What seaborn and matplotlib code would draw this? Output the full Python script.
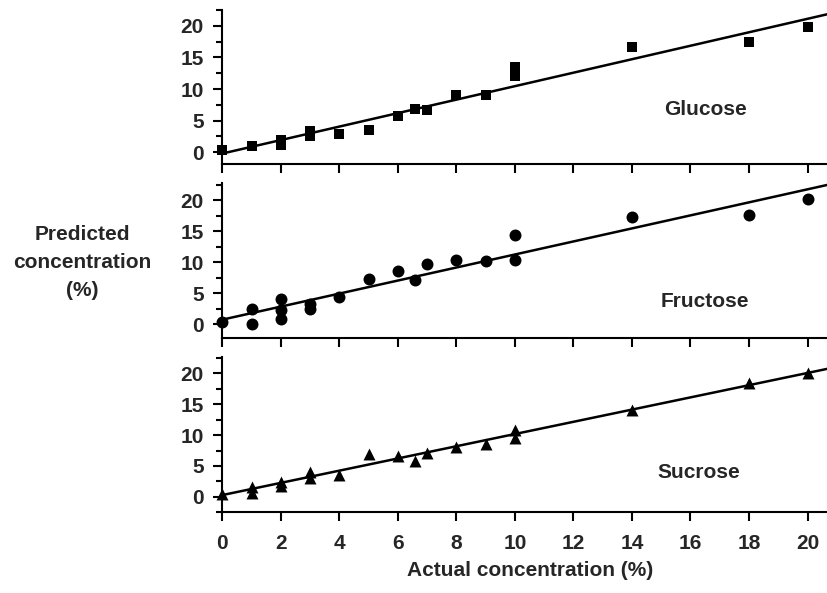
import seaborn as sns
import pandas as pd
from matplotlib import pyplot as plt
from matplotlib import ticker as ticktools

# values
glucose_x = [0, 1, 2, 2, 3, 3, 4, 5, 6, 6.6, 7, 8, 9, 10, 10, 14, 18, 20]
glucose_y = [0.3, 1.0, 2.0, 1.1, 3.3, 2.6, 2.9, 3.6, 5.7, 6.8, 6.7, 9.0, 9.1,
             13.5, 12.1, 16.6, 17.4, 19.8]

fructose_x = [0, 1, 1, 2, 2, 2, 3, 3, 4, 5, 6, 6.6, 7, 8, 9, 10, 10, 14, 18, 20]
fructose_y = [0.3, 2.4, 0.0, 4.0, 2.2, 0.8, 3.3, 2.4, 4.4, 7.3, 8.5, 7.1, 9.7,
              10.3, 10.1, 14.3, 10.4, 17.3, 17.6, 20.1]

sucrose_x = [0, 1, 1, 2, 2, 3, 3, 4, 5, 6, 6.6, 7, 8, 9, 10, 10, 14, 18, 20]
sucrose_y = [0.5, 1.6, 0.6, 2.4, 1.7, 4.1, 3.1, 3.6, 7.0, 6.6, 5.8, 7.1, 8.1,
             8.5, 10.9, 9.5, 14.0, 18.5, 20.0]

sugar_names = ["Glucose", "Fructose", "Sucrose"]

sns.set_theme(style="ticks")
plt.rcParams['font.family'] = ['Liberation Sans', 'DejaVu Sans']
plt.rcParams['font.weight'] = 'bold'

fig = plt.figure(figsize=(8.28, 5.93), dpi=100)

# panel rectangles (figure fractions), ylims, marker, label position
panels = [
    (glucose_x, glucose_y, [0.2685, 0.7229, 0.7315, 0.2602], (-1.9, 22.5), 's', 52, (16.5, 6.8)),
    (fructose_x, fructose_y, [0.2685, 0.4295, 0.7315, 0.2614], (-2.3, 22.7), 'o', 74, (16.5, 3.6)),
    (sucrose_x, sucrose_y, [0.2685, 0.1361, 0.7315, 0.2614], (-2.5, 22.6), '^', 74, (16.3, 3.9)),
]

for i, (xs, ys, rect, ylim, mk, ms, lab) in enumerate(panels):
    ax = fig.add_axes(rect)
    # xlim set first so the fitted line runs across the whole panel
    ax.set_xlim(0, 20.7)
    ax.set_ylim(*ylim)

    df = pd.DataFrame({"actual": xs, "predicted": ys})
    sns.regplot(x="actual", y="predicted", data=df, ax=ax, ci=None,
                truncate=False, marker=mk,
                scatter_kws=dict(s=ms, color="black", alpha=1, linewidths=0,
                                 clip_on=False, zorder=3),
                line_kws=dict(color="black", lw=1.8))

    ax.set_xlim(0, 20.7)
    ax.set_ylim(*ylim)
    ax.set_xlabel("")
    ax.set_ylabel("")

    sns.despine(ax=ax)
    for sp in ["left", "bottom"]:
        ax.spines[sp].set_linewidth(1.5)
        ax.spines[sp].set_color("black")

    ax.yaxis.set_major_locator(ticktools.MultipleLocator(5))
    ax.yaxis.set_minor_locator(ticktools.MultipleLocator(2.5))
    ax.xaxis.set_major_locator(ticktools.FixedLocator(range(0, 21, 2)))
    ax.tick_params(axis="both", which="major", length=6.5, width=1.5,
                   color="black", labelsize=15, pad=7)
    ax.tick_params(axis="y", which="minor", length=4, width=1.5, color="black")
    ax.tick_params(axis="x", pad=9)
    if i < 2:
        ax.tick_params(axis="x", labelbottom=False)

    for t in ax.get_xticklabels() + ax.get_yticklabels():
        t.set_fontweight("bold")

    ax.text(lab[0], lab[1], sugar_names[i], ha="center", va="center",
            fontsize=15, fontweight="bold")

fig.text(0.099, 1 - 262 / 593, "Predicted\nconcentration\n(%)", ha="center",
         va="center", fontsize=15, fontweight="bold", linespacing=1.6)
fig.text(0.64, 1 - 570 / 593, "Actual concentration (%)", ha="center",
         va="center", fontsize=15, fontweight="bold")

fig.savefig("out.png", dpi=100)
